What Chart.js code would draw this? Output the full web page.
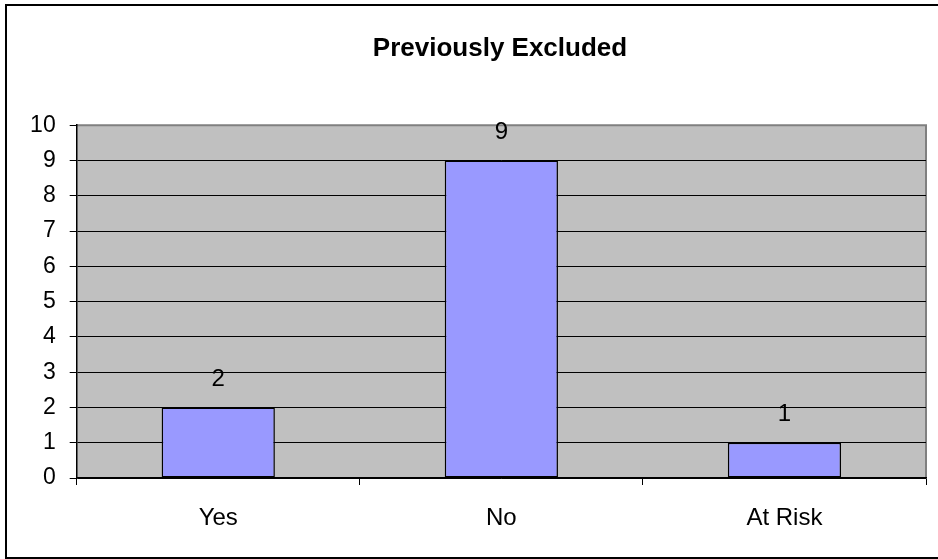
<!DOCTYPE html>
<html>
<head>
<meta charset="utf-8">
<title>Previously Excluded</title>
<script src="https://cdn.jsdelivr.net/npm/chart.js@4.4.1/dist/chart.umd.min.js"></script>
<style>
  html, body { margin: 0; padding: 0; background: #fff; overflow: hidden; }
  #wrap { position: relative; width: 938px; height: 559px; overflow: hidden; }
  #frame {
    position: absolute; left: 5px; top: 4px; width: 990px; height: 555px;
    border: 2px solid #000; box-sizing: border-box; pointer-events: none;
  }
  #chart { position: absolute; left: 0; top: 0; }
</style>
</head>
<body>
<div id="wrap">
  <canvas id="chart" width="1000" height="559"></canvas>
  <div id="frame"></div>
</div>
<script>
// categories and counts
const categories = ['Yes', 'No', 'At Risk'];
const counts     = [2, 9, 1];
const yTicks     = [0, 1, 2, 3, 4, 5, 6, 7, 8, 9, 10];

const FONT = '"Liberation Sans", Arial, Helvetica, sans-serif';

// grey plot background with a darker outline on top and right
const plotBackground = {
  id: 'plotBackground',
  beforeDraw(chart) {
    const { ctx, chartArea: a } = chart;
    ctx.save();
    ctx.fillStyle = '#c0c0c0';
    ctx.fillRect(a.left, a.top, a.right - a.left, a.bottom - a.top);
    ctx.strokeStyle = '#808080';
    ctx.lineWidth = 2;
    ctx.beginPath();
    ctx.moveTo(a.left, a.top);
    ctx.lineTo(a.right, a.top);
    ctx.lineTo(a.right, a.bottom);
    ctx.stroke();
    ctx.restore();
  }
};

// value written above each bar
const valueLabels = {
  id: 'valueLabels',
  afterDatasetsDraw(chart) {
    const { ctx } = chart;
    const meta = chart.getDatasetMeta(0);
    ctx.save();
    ctx.font = '24px ' + FONT;
    ctx.fillStyle = '#000';
    ctx.textAlign = 'center';
    ctx.textBaseline = 'middle';
    meta.data.forEach((bar, i) => {
      ctx.fillText(String(counts[i]), bar.x, bar.y - 28);
    });
    ctx.restore();
  }
};

new Chart(document.getElementById('chart'), {
  type: 'bar',
  data: {
    labels: categories,
    datasets: [{
      data: counts,
      yAxisID: 'y',
      backgroundColor: '#9999ff',
      borderColor: '#000',
      borderWidth: 1.5,
      borderSkipped: false,
      barPercentage: 0.4,
      categoryPercentage: 1
    }]
  },
  options: {
    responsive: false,
    animation: false,
    devicePixelRatio: 1,
    layout: { padding: 0 },
    plugins: {
      legend: { display: false },
      tooltip: { enabled: false },
      title: {
        display: true,
        text: 'Previously Excluded',
        color: '#000',
        font: { family: FONT, size: 26, weight: 'bold' },
        padding: { top: 33, bottom: 61 }
      }
    },
    scales: {
      x: {
        afterFit(scale) { scale.height = 81; },
        border: { display: true, color: '#000', width: 1.5 },
        grid: {
          display: true,
          offset: true,
          drawOnChartArea: false,
          drawTicks: true,
          tickLength: 7,
          color: '#000',
          lineWidth: 1
        },
        ticks: {
          color: '#000',
          padding: 19,
          font: { family: FONT, size: 24 }
        }
      },
      y: {
        min: 0,
        max: 10,
        afterFit(scale) { scale.width = 76.7; },
        afterBuildTicks(scale) { scale.ticks = yTicks.map(v => ({ value: v })); },
        border: { display: true, color: '#000', width: 1.5 },
        grid: {
          color: ctx => (ctx.tick && ctx.tick.value === 10 ? 'rgba(0,0,0,0)' : '#000'),
          lineWidth: 1,
          tickLength: 7,
          tickColor: '#000'
        },
        ticks: {
          color: '#000',
          padding: 14,
          font: { family: FONT, size: 23 }
        }
      },
      // empty right-hand margin so the title sits centred over the whole frame
      margin: {
        type: 'linear',
        position: 'right',
        min: 0,
        max: 1,
        afterFit(scale) { scale.width = 74; },
        border: { display: false },
        grid: { display: false, drawTicks: false },
        ticks: { display: false }
      }
    }
  },
  plugins: [plotBackground, valueLabels]
});
</script>
</body>
</html>
